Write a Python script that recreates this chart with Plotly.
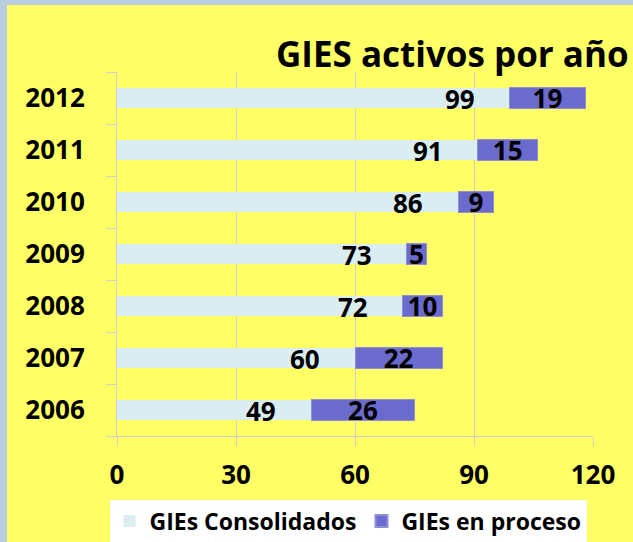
import plotly.graph_objects as go

# ---- data ----
years = ["2006", "2007", "2008", "2009", "2010", "2011", "2012"]
consolidados = [49, 60, 72, 73, 86, 91, 99]
en_proceso = [26, 22, 10, 5, 9, 15, 19]
x_ticks = [0, 30, 60, 90, 120]
title_text = "GIES activos por año"
series_names = ["GIEs Consolidados", "GIEs en proceso"]

# ---- layout geometry (pixels) ----
W, H = 633, 542
L, R, T, B = 117, 40, 72, 106
pw, ph = W - L - R, H - T - B


def px_x(px):
    return (px - L) / pw


def px_y(py):
    return (H - B - py) / ph


FONT = "Open Sans"
YELLOW = "#FFFF66"
BORDER = "#B9CCE0"
GRID = "#D0D0D0"

fig = go.Figure()
fig.add_trace(go.Bar(
    y=years, x=consolidados, orientation="h", name=series_names[0],
    marker=dict(color="#DAEEF1", line=dict(width=0)),
))
fig.add_trace(go.Bar(
    y=years, x=en_proceso, orientation="h", name=series_names[1],
    marker=dict(color="#6B6BCE", line=dict(color="#8E8EDA", width=1)),
    text=[str(v) for v in en_proceso], textposition="inside",
    insidetextanchor="middle", constraintext="none", textangle=0,
    textfont=dict(family=FONT, size=26, color="black", weight="bold"),
))

annotations = []
for i, v in enumerate(consolidados):
    annotations.append(dict(
        x=v, y=i, xref="x", yref="y", text=str(v), showarrow=False,
        xanchor="right", yanchor="middle", xshift=-33, yshift=-1,
        font=dict(family=FONT, size=26, color="black", weight="bold"),
    ))

shapes = [
    # left border strip
    dict(type="rect", xref="paper", yref="paper", layer="above",
         x0=px_x(-5), x1=px_x(7), y0=px_y(H + 5), y1=px_y(-5),
         fillcolor=BORDER, line=dict(width=0)),
    # top border strip
    dict(type="rect", xref="paper", yref="paper", layer="above",
         x0=px_x(-5), x1=px_x(W + 5), y0=px_y(5), y1=px_y(-5),
         fillcolor=BORDER, line=dict(width=0)),
]

fig.update_layout(
    template="none",
    width=W, height=H,
    margin=dict(l=L, r=R, t=T, b=B, pad=0, autoexpand=False),
    paper_bgcolor=YELLOW,
    plot_bgcolor=YELLOW,
    barmode="stack",
    bargap=0.6,
    title=dict(
        text=title_text, x=276 / W, xref="container", xanchor="left",
        y=1 - 55 / H, yref="container", yanchor="middle",
        font=dict(family=FONT, size=35, color="black", weight="bold"),
    ),
    xaxis=dict(
        range=[0, 120], tickvals=x_ticks, ticktext=[str(t) for t in x_ticks],
        showgrid=True, gridcolor=GRID, gridwidth=1,
        showline=True, linecolor=GRID, linewidth=1,
        ticks="outside", ticklen=9, tickcolor=GRID, tickwidth=1,
        tickfont=dict(family=FONT, size=26, color="black", weight="bold"),
        ticklabelstandoff=7,
        zeroline=False, automargin=False, fixedrange=True,
    ),
    yaxis=dict(
        type="category", categoryorder="array", categoryarray=years,
        range=[-0.5, len(years) - 0.5], autorange=False,
        showgrid=False, showline=True, linecolor=GRID, linewidth=1,
        ticks="outside", tickson="boundaries", ticklen=10, tickcolor=GRID,
        tickfont=dict(family=FONT, size=26, color="black", weight="bold"),
        ticklabelstandoff=26,
        automargin=False, fixedrange=True,
    ),
    legend=dict(
        orientation="h", xref="container", x=348 / W, xanchor="center",
        yref="container", y=1 - 521 / H, yanchor="middle", bgcolor="white",
        font=dict(family=FONT, size=23, color="black", weight="bold"),
        traceorder="normal", itemsizing="constant",
        itemwidth=30, tracegroupgap=0,
    ),
    showlegend=True,
    annotations=annotations,
    shapes=shapes,
)

fig.write_html(
    "out.html",
    config={"displayModeBar": False},
    post_script="document.body.style.margin='0px';",
)
